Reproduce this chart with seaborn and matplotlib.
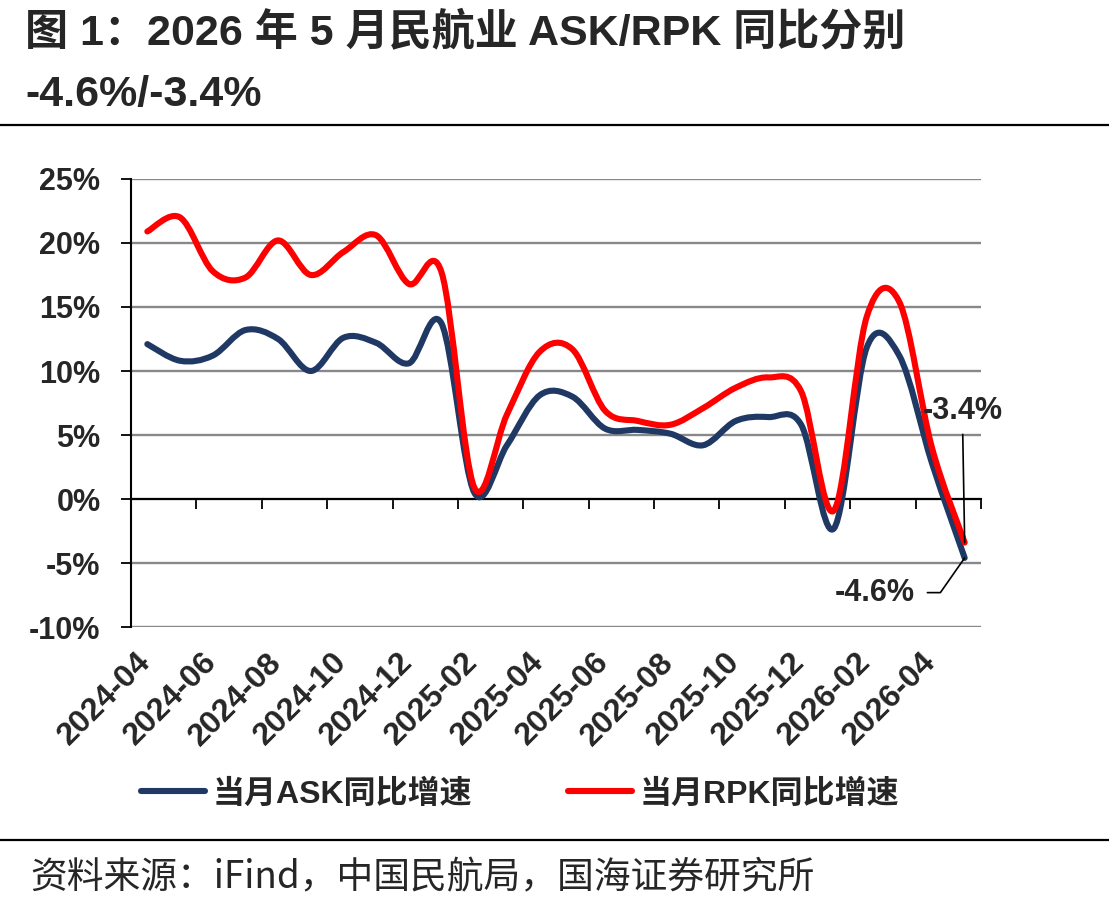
import matplotlib
matplotlib.use('Agg')
import matplotlib.pyplot as plt
import matplotlib.transforms as mtransforms
from matplotlib.path import Path
from matplotlib.patches import PathPatch
from matplotlib.lines import Line2D
import seaborn as sns

months = ['2024-04', '2024-05', '2024-06', '2024-07', '2024-08', '2024-09',
          '2024-10', '2024-11', '2024-12', '2025-01', '2025-02', '2025-03',
          '2025-04', '2025-05', '2025-06', '2025-07', '2025-08', '2025-09',
          '2025-10', '2025-11', '2025-12', '2026-01', '2026-02', '2026-03',
          '2026-04', '2026-05']
ask = [12.1, 10.8, 11.2, 13.2, 12.5, 10.0, 12.6, 12.2, 10.6, 13.7,
       0.5, 4.2, 8.1, 8.0, 5.5, 5.4, 5.1, 4.2, 6.1, 6.4,
       5.8, -2.3, 11.8, 11.2, 2.8, -4.6]
rpk = [20.9, 22.0, 17.8, 17.3, 20.2, 17.5, 19.3, 20.6, 16.8, 17.7,
       0.9, 6.6, 11.5, 11.7, 6.9, 6.1, 5.8, 7.1, 8.7, 9.5,
       8.4, -0.9, 14.2, 15.4, 4.0, -3.4]
series_names = ['当月ASK同比增速', '当月RPK同比增速']
yticks = [-10, -5, 0, 5, 10, 15, 20, 25]

sns.set_theme(style='white')
plt.rcParams['font.family'] = ['Liberation Sans', 'Noto Sans CJK SC']
plt.rcParams['axes.unicode_minus'] = False

colors = ['#203864', '#FF0000']


def smooth_path(xs, ys):
    # excel-like smoothed line: cubic bezier through every point
    n = len(xs)
    verts = [(xs[0], ys[0])]
    codes = [Path.MOVETO]
    for i in range(n - 1):
        xa, ya = (xs[i - 1], ys[i - 1]) if i > 0 else (xs[i], ys[i])
        xd, yd = (xs[i + 2], ys[i + 2]) if i + 2 < n else (xs[i + 1], ys[i + 1])
        c1 = (xs[i] + (xs[i + 1] - xa) / 6, ys[i] + (ys[i + 1] - ya) / 6)
        c2 = (xs[i + 1] - (xd - xs[i]) / 6, ys[i + 1] - (yd - ys[i]) / 6)
        verts += [c1, c2, (xs[i + 1], ys[i + 1])]
        codes += [Path.CURVE4] * 3
    return Path(verts, codes)


fig = plt.figure(figsize=(11.09, 9.09), dpi=100)
ax = fig.add_axes([0.1181, 0.3102, 0.7665, 0.4929])

idx = list(range(len(months)))
for vals, col in zip([ask, rpk], colors):
    ax.add_patch(PathPatch(smooth_path(idx, vals), fill=False, edgecolor=col,
                           lw=4.4, capstyle='round', joinstyle='round', zorder=3))

ax.set_xlim(-0.5, len(months) - 0.5)
ax.set_ylim(-10, 25)
ax.set_yticks(yticks)
ax.set_yticklabels([f'{v}%' for v in yticks], fontsize=22, fontweight='bold')
ax.yaxis.grid(True, color='#888888', lw=1.7)
ax.set_axisbelow(True)
ax.tick_params(axis='y', direction='out', length=7, width=1.3, color='black',
               pad=15, left=True)

# x axis drawn at 0 with tick marks between pairs of categories
ax.spines['bottom'].set_position(('data', 0))
ax.spines['bottom'].set_color('black')
ax.spines['bottom'].set_linewidth(1.5)
ax.spines['bottom'].set_zorder(2)
ax.set_xticks([i - 0.5 for i in range(0, len(months) + 1, 2)])
ax.set_xticklabels([])
ax.tick_params(axis='x', direction='out', length=7, width=1.3, color='black',
               bottom=True)
ax.spines['left'].set_color('black')
ax.spines['left'].set_linewidth(1.5)
sns.despine(ax=ax, top=True, right=True)

trans = mtransforms.blended_transform_factory(ax.transData, ax.transAxes)
for i in range(0, len(months), 2):
    ax.text(i - 0.35, -0.045, months[i], transform=trans, rotation=45,
            rotation_mode='anchor', ha='right', va='top', fontsize=23,
            fontweight='bold')

ax.annotate(f'{ask[-1]}%', xy=(len(months) - 1, ask[-1]), xytext=(-65, -25),
            textcoords='offset points', ha='center', va='center',
            fontsize=22, fontweight='bold',
            arrowprops=dict(arrowstyle='-', color='black', lw=1.2,
                            connectionstyle='angle,angleA=0,angleB=55,rad=0',
                            relpos=(1, 0.5), shrinkA=7, shrinkB=0))
ax.annotate(f'{rpk[-1]}%', xy=(len(months) - 1, rpk[-1]), xytext=(-1.5, 95),
            textcoords='offset points', ha='center', va='center',
            fontsize=22, fontweight='bold',
            arrowprops=dict(arrowstyle='-', color='black', lw=1.2,
                            relpos=(0.5, 0), shrinkA=4, shrinkB=0))

handles = [Line2D([], [], color=c, lw=4.4, solid_capstyle='round') for c in colors]
fig.legend(handles, series_names, loc='center', bbox_to_anchor=(0.469, 0.126),
           ncol=2, frameon=False, handlelength=2.0, handletextpad=0.25,
           columnspacing=3.0, prop={'size': 23, 'weight': 'bold'})

fig.text(0.0225, 0.965, '图 1：2026 年 5 月民航业 ASK/RPK 同比分别', fontsize=31,
         fontweight='bold', ha='left', va='center')
fig.text(0.0225, 0.895, '-4.6%/-3.4%', fontsize=31, fontweight='bold',
         ha='left', va='center')
fig.add_artist(Line2D([0, 1], [0.8625, 0.8625], color='black', lw=1.6))
fig.add_artist(Line2D([0, 1], [0.0759, 0.0759], color='black', lw=1.6))
fig.text(0.027, 0.034, '资料来源：iFind，中国民航局，国海证券研究所', fontsize=26.5,
         ha='left', va='center', family=['Noto Sans CJK SC', 'DejaVu Sans'])

fig.savefig('out.png', dpi=100)
